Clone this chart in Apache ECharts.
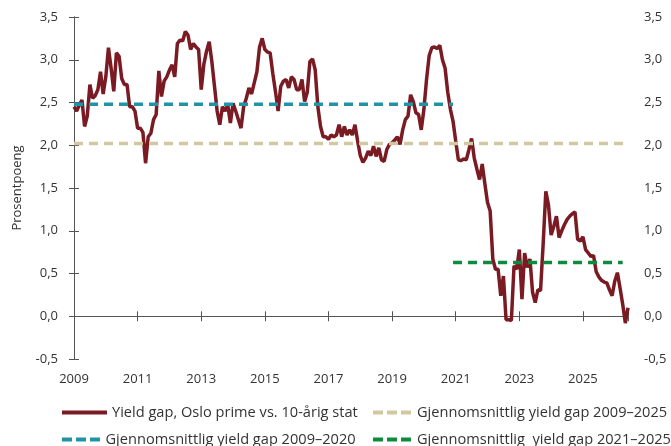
<!DOCTYPE html>
<html>
<head>
<meta charset="utf-8">
<script src="https://cdn.jsdelivr.net/npm/echarts@6/dist/echarts.min.js"></script>
<style>
  html, body { margin: 0; padding: 0; background: #fff; }
  #chart { width: 671px; height: 446px; }
</style>
</head>
<body>
<div id="chart"></div>
<script>
// månedlige verdier fra jan 2009
var yieldGap = [
  2.45, 2.40, 2.47, 2.53, 2.22, 2.34, 2.71, 2.55, 2.58, 2.65, 2.86, 2.60,
  2.80, 3.14, 2.90, 2.63, 3.08, 3.04, 2.78, 2.71, 2.71, 2.45, 2.45, 2.40,
  2.20, 2.20, 2.15, 1.79, 2.10, 2.14, 2.30, 2.36, 2.87, 2.57, 2.75, 2.80,
  2.88, 2.94, 2.80, 3.19, 3.23, 3.22, 3.33, 3.29, 3.12, 3.19, 3.15, 3.12,
  2.65, 2.95, 3.10, 3.21, 2.98, 2.69, 2.40, 2.24, 2.45, 2.40, 2.47, 2.26,
  2.49, 2.40, 2.30, 2.20, 2.45, 2.55, 2.67, 2.60, 2.73, 2.86, 3.15, 3.25,
  3.12, 3.09, 3.08, 2.84, 2.63, 2.40, 2.69, 2.75, 2.77, 2.67, 2.80, 2.77,
  2.65, 2.65, 2.77, 2.51, 2.62, 2.98, 3.01, 2.88, 2.45, 2.22, 2.10, 2.10,
  2.07, 2.12, 2.10, 2.12, 2.24, 2.10, 2.22, 2.12, 2.18, 2.12, 2.24, 2.05,
  1.88, 1.80, 1.85, 1.93, 1.88, 1.99, 1.87, 1.97, 1.83, 1.81, 1.95, 2.01,
  2.03, 2.06, 2.10, 2.01, 2.18, 2.30, 2.34, 2.59, 2.51, 2.38, 2.36, 2.18,
  2.42, 2.77, 3.05, 3.14, 3.15, 3.13, 3.17, 3.00, 2.90, 2.62, 2.42, 2.28,
  2.05, 1.83, 1.82, 1.84, 1.83, 1.95, 2.08, 1.85, 1.72, 1.60, 1.78, 1.55,
  1.33, 1.23, 0.67, 0.55, 0.55, 0.24, 0.47, -0.04, -0.04, -0.05, 0.59, 0.55,
  0.78, 0.20, 0.74, 0.57, 0.67, 0.28, 0.16, 0.31, 0.30, 0.85, 1.46, 1.30,
  0.95, 1.05, 1.17, 0.92, 1.00, 1.07, 1.13, 1.17, 1.20, 1.22, 0.90, 0.88,
  0.93, 0.78, 0.74, 0.70, 0.71, 0.52, 0.46, 0.42, 0.40, 0.39, 0.31, 0.24,
  0.41, 0.51, 0.33, 0.14, -0.08, 0.10
];
var startYear = 2009;

// gjennomsnitt: [nivå, fra måned, til måned]
var snittAlle = [2.02, 0, 209];
var snitt0920 = [2.48, 0, 143];
var snitt2125 = [0.63, 143, 207];

var navn = [
  'Yield gap, Oslo prime vs. 10-årig stat',
  'Gjennomsnittlig yield gap 2009–2025',
  'Gjennomsnittlig yield gap 2009–2020',
  'Gjennomsnittlig  yield gap 2021–2025'
];
var farger = ['#7a1b24', '#d1c7a1', '#2193a7', '#0c8a3d'];

var lastMonth = yieldGap.length - 1;
var font = 'Open Sans';
var tekst = '#333';
var aksefarge = '#555';

var heltrukket = 'path://M0,0h45v4h-45z';
var stiplet = 'path://M0,0h10v4h-10z M14,0h10v4h-10z M28,0h10v4h-10z';

function komma(v) {
  return v.toFixed(1).replace('.', ',');
}
function snittLinje(s) {
  return [[s[1], s[0]], [s[2], s[0]]];
}

var yAkse = function (pos) {
  return {
    type: 'value',
    position: pos,
    min: -0.5,
    max: 3.5,
    interval: 0.5,
    splitLine: { show: false },
    axisLine: { show: true, lineStyle: { color: aksefarge, width: 1 } },
    axisTick: { show: true, inside: true, length: 5, lineStyle: { color: aksefarge } },
    axisLabel: {
      color: tekst, fontFamily: font, fontSize: 13, margin: 16,
      formatter: komma
    }
  };
};

var xFelles = {
  type: 'value',
  min: 0,
  max: lastMonth,
  interval: 24,
  splitLine: { show: false }
};

// en legend per element, plassert i to rader
function forklaring(i, left, top, ikon, bredde) {
  return {
    left: left, top: top,
    icon: ikon,
    itemWidth: bredde, itemHeight: 4,
    textStyle: { color: tekst, fontFamily: font, fontSize: 14.6, padding: [0, 0, 0, 0] },
    selectedMode: false,
    data: [navn[i]]
  };
}

var myChart = echarts.init(document.getElementById('chart'));
var option = {
  animation: false,
  backgroundColor: '#fff',
  grid: { left: 74, right: 43, top: 17, bottom: 87, containLabel: false },
  xAxis: [
    // bare etiketter nederst
    Object.assign({}, xFelles, {
      position: 'bottom',
      axisLine: { show: false, onZero: false },
      axisTick: { show: false },
      axisLabel: {
        color: tekst, fontFamily: font, fontSize: 13, margin: 14,
        showMaxLabel: false,
        formatter: function (v) {
          return v % 24 === 0 ? String(startYear + v / 12) : '';
        }
      }
    }),
    // nullinje med streker ned
    Object.assign({}, xFelles, {
      position: 'bottom',
      axisLine: { show: true, onZero: true, lineStyle: { color: aksefarge, width: 1 } },
      axisTick: { show: true, inside: false, length: 5, lineStyle: { color: aksefarge } },
      axisLabel: { show: false }
    }),
    // streker opp
    Object.assign({}, xFelles, {
      position: 'bottom',
      axisLine: { show: false, onZero: true },
      axisTick: { show: true, inside: true, length: 5, lineStyle: { color: aksefarge } },
      axisLabel: { show: false }
    })
  ],
  yAxis: [
    Object.assign(yAkse('left'), {
      name: 'Prosentpoeng',
      nameLocation: 'middle',
      nameGap: 50,
      nameTextStyle: { color: tekst, fontFamily: font, fontSize: 13 }
    }),
    yAkse('right')
  ],
  legend: [
    forklaring(0, 57, 400, heltrukket, 45),
    forklaring(1, 368, 400, stiplet, 40),
    forklaring(2, 57, 427, stiplet, 39),
    forklaring(3, 368, 427, stiplet, 40)
  ],
  series: [{
    name: navn[0],
    type: 'line',
    data: yieldGap.map(function (v, i) { return [i, v]; }),
    symbol: 'none',
    color: farger[0],
    lineStyle: { width: 3.5, color: farger[0] },
    z: 2
  }, {
    name: navn[1],
    type: 'line',
    data: snittLinje(snittAlle),
    symbol: 'none',
    color: farger[1],
    lineStyle: { width: 3.5, type: [9, 6], color: farger[1] },
    z: 3
  }, {
    name: navn[2],
    type: 'line',
    data: snittLinje(snitt0920),
    symbol: 'none',
    color: farger[2],
    lineStyle: { width: 3.5, type: [9, 6], color: farger[2] },
    z: 3
  }, {
    name: navn[3],
    type: 'line',
    data: snittLinje(snitt2125),
    symbol: 'none',
    color: farger[3],
    lineStyle: { width: 3.5, type: [9, 6], color: farger[3] },
    z: 3
  }]
};
myChart.setOption(option);
</script>
</body>
</html>
